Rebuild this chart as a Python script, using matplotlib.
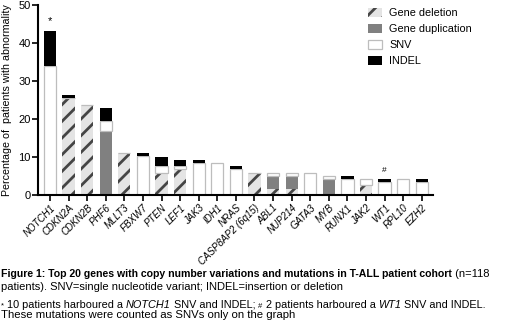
import numpy as np
import matplotlib
matplotlib.use('Agg')
import matplotlib.pyplot as plt
from matplotlib.patches import Patch

plt.rcParams['font.family'] = ['Liberation Sans', 'DejaVu Sans']
plt.rcParams['hatch.linewidth'] = 2.0

genes = ['NOTCH1', 'CDKN2A', 'CDKN2B', 'PHF6', 'MLLT3', 'FBXW7', 'PTEN', 'LEF1',
         'JAK3', 'IDH1', 'NRAS', 'CASP8AP2 (6q15)', 'ABL1', 'NUP214', 'GATA3',
         'MYB', 'RUNX1', 'JAK2', 'WT1', 'RPL10', 'EZH2']
# percentage of patients (n=118)
deletion = [0, 25.4, 23.7, 0, 11.0, 0, 5.9, 6.8, 0, 0, 0, 5.9, 1.7, 1.7, 0, 0, 0, 2.5, 0, 0, 0]
duplication = [0, 0, 0, 16.9, 0, 0, 0, 0, 0, 0, 0, 0, 3.4, 3.4, 0, 4.2, 0, 0, 0, 0, 0]
snv = [33.9, 0, 0, 2.5, 0, 10.2, 1.7, 0.8, 8.5, 8.5, 6.8, 0, 0.8, 0.8, 5.9, 0.8, 4.2, 1.7, 3.4, 4.2, 3.4]
indel = [9.3, 0.8, 0, 3.4, 0, 0.8, 2.5, 1.7, 0.8, 0, 0.8, 0, 0, 0, 0, 0, 0.8, 0, 0.8, 0, 0.8]
marks = {'NOTCH1': '*', 'WT1': '#'}

fig = plt.figure(figsize=(5.2, 3.27), dpi=100)
ax = fig.add_axes([0.0725, 0.4037, 0.7605, 0.581])

x = np.arange(len(genes))
w = 0.66
dele = np.array(deletion)
dup = np.array(duplication)
sn = np.array(snv)
ind = np.array(indel)

ax.bar(x, dele, w, color='#e4e4e4', edgecolor='#454545', hatch='//', linewidth=0)
ax.bar(x, dup, w, bottom=dele, color='#808080', linewidth=0)
ax.bar(x, sn, w, bottom=dele + dup, color='white', edgecolor='#bdbdbd', linewidth=0.9)
ax.bar(x, ind, w, bottom=dele + dup + sn, color='black', linewidth=0)

tot = dele + dup + sn + ind
for g, m in marks.items():
    i = genes.index(g)
    ax.text(i, tot[i] + 1.2, m, ha='center', va='bottom', fontsize=8 if m == '*' else 6)

ax.set_xlim(-0.66, 20.61)
ax.set_ylim(0, 50)
ax.set_yticks([0, 10, 20, 30, 40, 50])
ax.set_xticks(x)
ax.set_xticklabels(genes, rotation=45, ha='right', rotation_mode='anchor',
                   fontsize=7, style='italic')
ax.tick_params(axis='y', labelsize=8, width=1.2, length=4, pad=1)
ax.tick_params(axis='x', width=1.2, length=4, pad=1.5)
for s in ['top', 'right']:
    ax.spines[s].set_visible(False)
for s in ['left', 'bottom']:
    ax.spines[s].set_linewidth(1.5)
ax.set_ylabel('Percentage of  patients with abnormality', fontsize=7.7)
ax.yaxis.set_label_coords(-0.066, 0.5)

handles = [Patch(facecolor='#e4e4e4', edgecolor='#454545', hatch='//', linewidth=0),
           Patch(facecolor='#808080', linewidth=0),
           Patch(facecolor='white', edgecolor='#bdbdbd', linewidth=0.9),
           Patch(facecolor='black', linewidth=0)]
fig.legend(handles, ['Gene deletion', 'Gene duplication', 'SNV', 'INDEL'],
           loc='upper left', bbox_to_anchor=(0.700, 0.99), frameon=False,
           fontsize=7.8, handlelength=1.25, handleheight=1.0, handletextpad=0.7,
           labelspacing=0.5, borderaxespad=0)

r = fig.canvas.get_renderer()


def runs(x0, y0, parts, size=8.0):
    xx = x0
    for s, kw in parts:
        opts = {'fontsize': size, 'va': 'baseline'}
        opts.update(kw)
        t = fig.text(xx, y0, s, **opts)
        bb = t.get_window_extent(r)
        xx += bb.width / fig.bbox.width


runs(0.002, 1 - 277 / 327, [('Figure 1: Top 20 genes with copy number variations and mutations in T-ALL patient cohort',
                             {'weight': 'bold', 'fontsize': 7.6}),
                            (' (n=118', {})])
runs(0.002, 1 - 289.5 / 327, [('patients). SNV=single nucleotide variant; INDEL=insertion or deletion', {})])
runs(0.002, 1 - 307.5 / 327, [('*', {'fontsize': 5.5}), (' 10 patients harboured a ', {}), ('NOTCH1', {'style': 'italic'}),
                              (' SNV and INDEL; ', {}), ('#', {'fontsize': 5.5}),
                              (' 2 patients harboured a ', {}), ('WT1', {'style': 'italic'}),
                              (' SNV and INDEL.', {})], size=7.8)
runs(0.002, 1 - 317.5 / 327, [('These mutations were counted as SNVs only on the graph', {})], size=8.2)

fig.savefig('out.png', dpi=100)
